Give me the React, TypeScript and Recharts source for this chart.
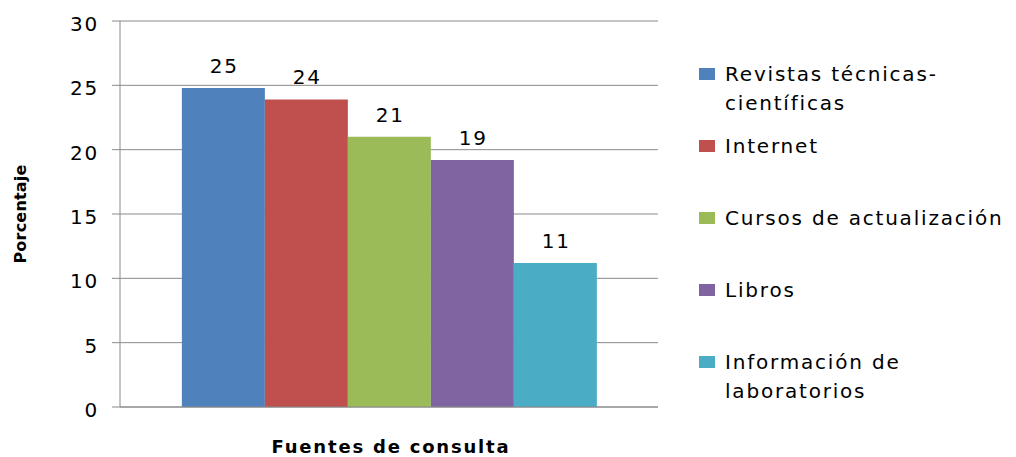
import React from 'react';
import { BarChart, Bar, XAxis, YAxis, CartesianGrid, Legend, LabelList, Label } from 'recharts';

const categories = [''];
const seriesNames = [
  'Revistas técnicas-científicas',
  'Internet',
  'Cursos de actualización',
  'Libros',
  'Información de laboratorios',
];
const legendLines = [
  ['Revistas técnicas-', 'científicas'],
  ['Internet'],
  ['Cursos de actualización'],
  ['Libros'],
  ['Información de', 'laboratorios'],
];
const seriesValues = [24.8, 23.9, 21.0, 19.2, 11.2];
const seriesColors = ['#4F81BD', '#C0504D', '#9BBB59', '#8064A2', '#4BACC6'];
const yTicks = [0, 5, 10, 15, 20, 25, 30];

const keys = seriesNames.map((_, i) => `s${i}`);
const data = categories.map((c) => {
  const row: Record<string, any> = { cat: c };
  keys.forEach((k, i) => {
    row[k] = seriesValues[i];
  });
  return row;
});

const FONT = '"DejaVu Sans", sans-serif';
const GRID = '#8a8a8a';

const YTick = (props: any) => {
  const { x, y, payload } = props;
  return (
    <text x={x - 11} y={y + 10} textAnchor="end" fill="#000" fontSize={20} fontFamily={FONT} style={{ letterSpacing: '1.8px' }}>
      {payload.value}
    </text>
  );
};

const renderBarLabel = (props: any) => {
  const { x, y, width, value } = props;
  return (
    <text x={x + width / 2 + 1} y={y - 15} textAnchor="middle" fill="#000" fontSize={20} fontFamily={FONT} style={{ letterSpacing: '1.8px' }}>
      {Math.round(value)}
    </text>
  );
};

const renderLegend = (props: any) => {
  const { payload } = props;
  const items = [...payload].sort((a: any, b: any) => keys.indexOf(a.dataKey) - keys.indexOf(b.dataKey));
  return (
    <div style={{ position: 'relative', width: 317, height: 370, fontFamily: FONT }}>
      {items.map((entry: any, i: number) => {
        const idx = keys.indexOf(entry.dataKey);
        const lines = legendLines[idx] || [entry.value];
        return (
          <div key={i} style={{ position: 'absolute', left: 0, top: i * 72 }}>
            <div style={{ position: 'absolute', left: 0, top: 8, width: 16, height: 12, background: entry.color }} />
            <div style={{ position: 'absolute', left: 26, top: 0, fontSize: 20, lineHeight: '29px', letterSpacing: '1.8px', color: '#000', whiteSpace: 'nowrap' }}>
              {lines.map((l, j) => (
                <div key={j}>{l}</div>
              ))}
            </div>
          </div>
        );
      })}
    </div>
  );
};

export default function App() {
  return (
    <div style={{ position: 'absolute', left: 0, top: 0, width: 1016, height: 457, background: '#fff' }}>
      <BarChart
        width={1016}
        height={457}
        data={data}
        margin={{ top: 21, right: 358, left: 0, bottom: 0 }}
        barCategoryGap="11.5%"
        barGap={0}
      >
        <CartesianGrid vertical={false} stroke={GRID} strokeWidth={1} />
        <XAxis
          dataKey="cat"
          tick={false}
          tickLine={false}
          axisLine={{ stroke: GRID }}
          height={50}
        >
          <Label
            content={(p: any) => {
              const vb = p.viewBox;
              return (
                <text x={vb.x + vb.width / 2 + 2} y={453} textAnchor="middle" fill="#000" fontSize={18} fontWeight="bold" fontFamily={FONT} style={{ letterSpacing: '1.8px' }}>
                  Fuentes de consulta
                </text>
              );
            }}
          />
        </XAxis>
        <YAxis
          width={120}
          domain={[0, 30]}
          ticks={yTicks}
          interval={0}
          tickSize={8}
          tickLine={{ stroke: GRID }}
          axisLine={{ stroke: GRID }}
          tick={<YTick />}
        >
          <Label
            content={(p: any) => {
              const vb = p.viewBox;
              const cy = vb.y + vb.height / 2;
              return (
                <text x={26} y={cy} transform={`rotate(-90 26 ${cy})`} textAnchor="middle" fill="#000" fontSize={16} fontWeight="bold" fontFamily={FONT} style={{ letterSpacing: '0.2px' }}>
                  Porcentaje
                </text>
              );
            }}
          />
        </YAxis>
        <Legend
          layout="vertical"
          align="center"
          verticalAlign="middle"
          itemSorter={(item: any) => keys.indexOf(item.dataKey)}
          content={renderLegend}
          wrapperStyle={{ position: 'absolute', left: 699, top: 60, width: 317, height: 370 }}
        />
        {keys.map((k, i) => (
          <Bar key={k} dataKey={k} name={seriesNames[i]} fill={seriesColors[i]} isAnimationActive={false}>
            <LabelList dataKey={k} content={renderBarLabel} />
          </Bar>
        ))}
      </BarChart>
    </div>
  );
}
